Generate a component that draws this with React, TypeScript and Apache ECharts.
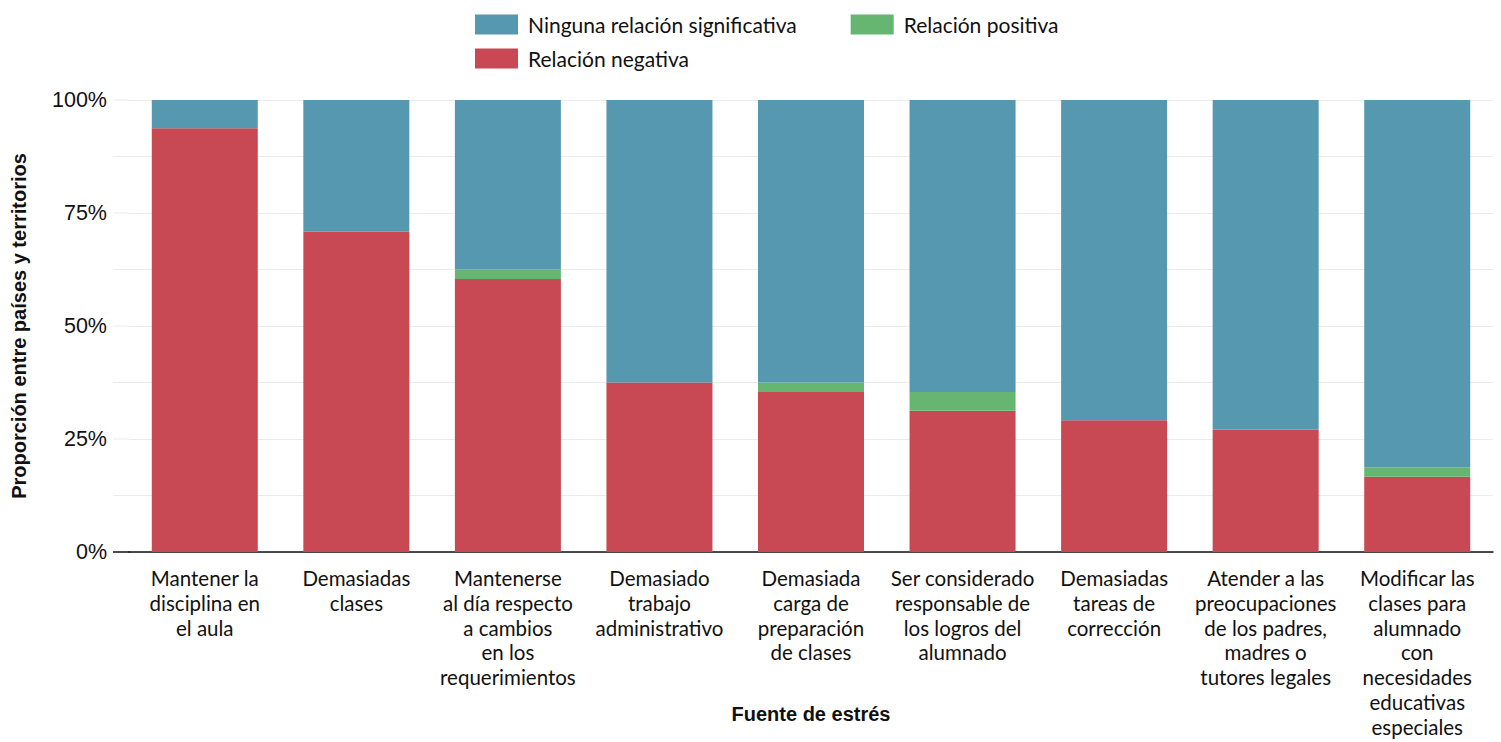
import React, { useEffect, useRef } from "react";
import * as echarts from "echarts";

const categories = [
  "Mantener la\ndisciplina en\nel aula",
  "Demasiadas\nclases",
  "Mantenerse\nal día respecto\na cambios\nen los\nrequerimientos",
  "Demasiado\ntrabajo\nadministrativo",
  "Demasiada\ncarga de\npreparación\nde clases",
  "Ser considerado\nresponsable de\nlos logros del\nalumnado",
  "Demasiadas\ntareas de\ncorrección",
  "Atender a las\npreocupaciones\nde los padres,\nmadres o\ntutores legales",
  "Modificar las\nclases para\nalumnado\ncon\nnecesidades\neducativas\nespeciales",
];

const negativa = [93.75, 70.83, 60.42, 37.5, 35.42, 31.25, 29.17, 27.08, 16.67];
const positiva = [0, 0, 2.08, 0, 2.08, 4.17, 0, 0, 2.08];
const ninguna = [6.25, 29.17, 37.5, 62.5, 62.5, 64.58, 70.83, 72.92, 81.25];

const yTicks = [0, 25, 50, 75, 100];
const gridTicks = [12.5, 25, 37.5, 50, 62.5, 75, 87.5, 100];

const NAME_NEG = "Relación negativa";
const NAME_POS = "Relación positiva";
const NAME_NONE = "Ninguna relación significativa";

const COL_NEG = "#C84853";
const COL_POS = "#66B672";
const COL_NONE = "#5598B0";

export default function App() {
  const ref = useRef<HTMLDivElement>(null);

  useEffect(() => {
    document.body.style.margin = "0";
    const chart = echarts.init(ref.current!, null, { renderer: "svg" });
    const catFont = "Lato, 'Noto Sans', sans-serif";
    const arial = "'Liberation Sans', Arial, sans-serif";
    const legendText = {
      fontFamily: catFont,
      fontSize: 21,
      color: "#111",
      padding: [0, 0, 0, 5],
    };
    const legendBase = {
      left: 475,
      itemWidth: 43,
      itemHeight: 20,
      itemGap: 54,
      padding: 0,
      icon: "rect",
      textStyle: legendText,
      selectedMode: false,
    };
    chart.setOption({
      animation: false,
      backgroundColor: "#ffffff",
      legend: [
        { ...legendBase, data: [NAME_NONE, NAME_POS], top: 14 },
        { ...legendBase, data: [NAME_NEG], top: 48 },
      ],
      grid: {
        left: 129,
        right: 8,
        top: 100,
        bottom: 190,
        containLabel: false,
        outerBoundsMode: "none",
      },
      xAxis: {
        type: "category",
        data: categories,
        name: "Fuente de estrés",
        nameLocation: "middle",
        nameGap: 152,
        nameMoveOverlap: false,
        nameTextStyle: {
          fontFamily: arial,
          fontWeight: "bold",
          fontSize: 20,
          color: "#111",
        },
        axisLine: { lineStyle: { color: "#111", width: 1.5 } },
        axisTick: { show: false },
        axisLabel: {
          interval: 0,
          margin: 14,
          fontFamily: catFont,
          fontSize: 20.5,
          lineHeight: 24.7,
          color: "#111",
        },
      },
      yAxis: {
        type: "value",
        min: 0,
        max: 100,
        interval: 12.5,
        name: "Proporción entre países y territorios",
        nameLocation: "middle",
        nameGap: 100,
        nameMoveOverlap: false,
        nameTextStyle: {
          fontFamily: arial,
          fontWeight: "bold",
          fontSize: 20,
          color: "#111",
        },
        axisLine: { show: false },
        axisTick: { show: false },
        splitLine: { lineStyle: { color: "#ebebeb", width: 1 } },
        axisLabel: {
          margin: 22,
          fontFamily: arial,
          fontSize: 21.5,
          color: "#111",
          formatter: (v: number) => (yTicks.includes(v) ? v + "%" : ""),
        },
      },
      series: [
        {
          name: NAME_NEG,
          type: "bar",
          stack: "s",
          data: negativa,
          barWidth: 106,
          itemStyle: { color: COL_NEG },
        },
        {
          name: NAME_POS,
          type: "bar",
          stack: "s",
          data: positiva,
          barWidth: 106,
          itemStyle: { color: COL_POS },
        },
        {
          name: NAME_NONE,
          type: "bar",
          stack: "s",
          data: ninguna,
          barWidth: 106,
          itemStyle: { color: COL_NONE },
        },
      ],
    });

    // extend gridlines and axis line to the left of the first category
    const ext: any[] = [];
    const leftX = 113;
    const x0 = 129;
    gridTicks.forEach((t) => {
      const p = chart.convertToPixel({ yAxisIndex: 0 }, t) as number;
      ext.push({
        type: "line",
        shape: { x1: leftX, y1: p, x2: x0, y2: p },
        style: { stroke: "#ebebeb", lineWidth: 1 },
        silent: true,
      });
    });
    const p0 = chart.convertToPixel({ yAxisIndex: 0 }, 0) as number;
    ext.push({
      type: "line",
      shape: { x1: leftX, y1: p0, x2: x0 + 1, y2: p0 },
      style: { stroke: "#111", lineWidth: 1.5 },
      silent: true,
    });
    chart.setOption({ graphic: ext });

    return () => chart.dispose();
  }, []);

  return <div ref={ref} style={{ width: 1501, height: 742 }} />;
}
